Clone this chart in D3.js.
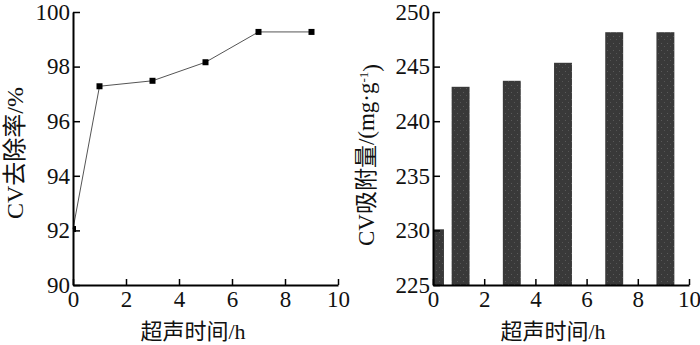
<!DOCTYPE html>
<html>
<head>
<meta charset="utf-8">
<script src="https://cdn.jsdelivr.net/npm/d3@7"></script>
<style>
  body { margin: 0; background: #fff; }
  text { font-family: "Liberation Serif", "Noto Sans CJK SC", serif; fill: #111; }
</style>
</head>
<body>
<script>
'use strict'
// ultrasonic time (h)
const hours = [0, 1, 3, 5, 7, 9];
// CV removal rate (%)
const removal = [92.05, 97.28, 97.48, 98.16, 99.27, 99.27];
// CV adsorption amount (mg/g)
const adsorption = [230.1, 243.15, 243.7, 245.35, 248.15, 248.15];
const xTicks = [0, 2, 4, 6, 8, 10];
const leftTicks = [90, 92, 94, 96, 98, 100];
const rightTicks = [225, 230, 235, 240, 245, 250];

const svg = d3.select("body").append("svg")
    .attr("width", 700)
    .attr("height", 345);

const defs = svg.append("defs");
const pat = defs.append("pattern")
    .attr("id", "speckle")
    .attr("patternUnits", "userSpaceOnUse")
    .attr("width", 6).attr("height", 7);
pat.append("rect").attr("width", 6).attr("height", 7).attr("fill", "#393939");
pat.append("rect").attr("x", 1).attr("y", 1).attr("width", 1).attr("height", 1).attr("fill", "#5a5a5a");
pat.append("rect").attr("x", 4).attr("y", 4).attr("width", 1).attr("height", 1).attr("fill", "#555");

function frame(g, x, y, yTicks) {
    const xAxis = g.append("g")
        .attr("transform", "translate(0," + y.range()[0] + ")")
        .call(d3.axisBottom(x).tickValues(xTicks).tickSize(-6).tickSizeOuter(0).tickPadding(4));
    const yAxis = g.append("g")
        .attr("transform", "translate(" + x.range()[0] + ",0)")
        .call(d3.axisLeft(y).tickValues(yTicks).tickSize(-7).tickSizeOuter(0).tickPadding(3));
    [xAxis, yAxis].forEach(a => {
        a.select(".domain").attr("stroke", "#000").attr("stroke-width", 2);
        a.selectAll(".tick line").attr("stroke", "#000").attr("stroke-width", 1.5);
        a.selectAll(".tick text").attr("font-size", "23px").attr("fill", "#111");
    });
    xAxis.selectAll(".tick text").attr("dy", "0.78em");
    yAxis.selectAll(".tick text").attr("x", -3);
}

// ---- left: removal rate ----
const x1 = d3.scaleLinear().domain([0, 10]).range([73, 338]);
const y1 = d3.scaleLinear().domain([90, 100]).range([285, 12]);
const g1 = svg.append("g");

defs.append("clipPath").attr("id", "clip1")
    .append("rect").attr("x", 73).attr("y", 0).attr("width", 280).attr("height", 285);

const line = d3.line().x((d, i) => x1(hours[i])).y(d => y1(d));
g1.append("path")
    .datum(removal)
    .attr("d", line)
    .attr("fill", "none")
    .attr("stroke", "#555")
    .attr("stroke-width", 1);

g1.append("g").attr("clip-path", "url(#clip1)")
    .selectAll("rect")
    .data(removal)
    .enter()
    .append("rect")
    .attr("x", (d, i) => x1(hours[i]) - 3)
    .attr("y", d => y1(d) - 3)
    .attr("width", 6)
    .attr("height", 6)
    .attr("fill", "#000");

frame(g1, x1, y1, leftTicks);

g1.append("text")
    .attr("x", 193).attr("y", 339)
    .attr("text-anchor", "middle")
    .attr("font-size", "22px")
    .text("超声时间/h");

g1.append("text")
    .attr("transform", "translate(23,153) rotate(-90)")
    .attr("text-anchor", "middle")
    .attr("font-size", "24px")
    .text("CV去除率/%");

// ---- right: adsorption amount ----
const x2 = d3.scaleLinear().domain([0, 10]).range([433, 689]);
const y2 = d3.scaleLinear().domain([225, 250]).range([285, 12]);
const g2 = svg.append("g");

defs.append("clipPath").attr("id", "clip2")
    .append("rect").attr("x", 433).attr("y", 0).attr("width", 270).attr("height", 285);

const barW = x2(0.7) - x2(0);
g2.append("g").attr("clip-path", "url(#clip2)")
    .selectAll("rect")
    .data(adsorption)
    .enter()
    .append("rect")
    .attr("x", (d, i) => x2(hours[i]) - barW / 2 + 2)
    .attr("y", d => y2(d))
    .attr("width", barW)
    .attr("height", d => y2(225) - y2(d))
    .attr("fill", "url(#speckle)");

frame(g2, x2, y2, rightTicks);

g2.append("text")
    .attr("x", 553).attr("y", 339)
    .attr("text-anchor", "middle")
    .attr("font-size", "22px")
    .text("超声时间/h");

const yl = g2.append("text")
    .attr("transform", "translate(374,155) rotate(-90)")
    .attr("text-anchor", "middle")
    .attr("font-size", "23px");
yl.append("tspan").text("CV吸附量/(mg·g");
yl.append("tspan").attr("dy", "-0.5em").attr("font-size", "13px").text("-1");
yl.append("tspan").attr("dy", "0.5em").text(")");
</script>
</body>
</html>
